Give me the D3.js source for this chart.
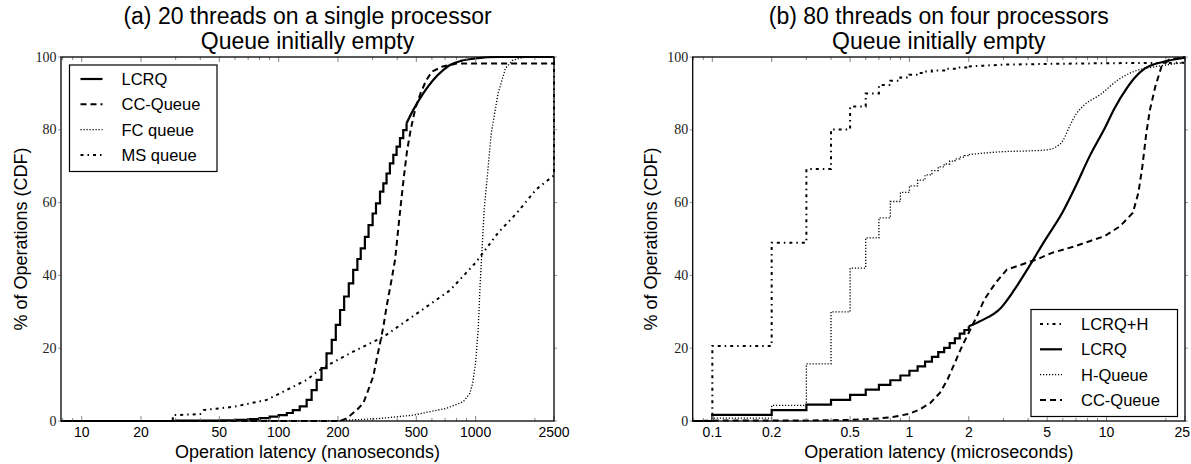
<!DOCTYPE html>
<html><head><meta charset="utf-8">
<script src="https://cdn.jsdelivr.net/npm/d3@7"></script>
<style>
html,body{margin:0;padding:0;background:#fff;}
svg{display:block;}
text{font-family:"Liberation Sans",Arial,sans-serif;fill:#000;}
.ytl{font-family:"Liberation Serif","Times New Roman",serif;}
</style></head>
<body>
<script>
// ---------------- DATA ----------------
// Panel (a): latency in nanoseconds, % of operations (CDF)
const aTitle = ["(a) 20 threads on a single processor", "Queue initially empty"];
const aXLabel = "Operation latency (nanoseconds)";
const aTickValues = [10, 20, 50, 100, 200, 500, 1000, 2500];
const aTickLabels = ["10", "20", "50", "100", "200", "500", "1000", "2500"];
const aLegend = ["LCRQ", "CC-Queue", "FC queue", "MS queue"];

const aLcrqSteps = [[7.85,0],[30,0.1],[50,0.2],[60,0.3],[70,0.5],[80,0.8],[90,1.2],[100,1.6],[110,2.2],[118,3.0],[128,4.0],[138.7,5.8],[147,8.5],[156,11.3],[165,14.5],[175,18.6],[186,22.3],[195,26.4],[205,30.5],[215,34.2],[227,37.8],[239,41.5],[251,44.5],[261,47.4],[274,50.6],[286,53.8],[300,57],[312,59.8],[327,63],[340,65.3],[353,68],[367,70.8],[382,73.1],[397,75.4],[413,77.7],[429,79.9],[446,81.8]];
const aLcrqTail = [[446,81.8],[482,85.4],[542,90],[609,93.7],[684,96.4],[741,97.8],[850,99],[1000,99.6],[1300,100],[2500,100]];
const aCcQueue = [[7.85,0],[205,0],[221,0.7],[249,3],[269,4.9],[285,8.5],[302,12.2],[314,16.8],[327,21.3],[340,25.9],[353,31.4],[372,38],[390,44.3],[405,53],[418,60],[432,67],[448,74],[468,80],[495,86],[525,90],[560,93.5],[600,96],[680,97.4],[800,98.2],[2500,98.2],[2500,100]];
const aFcQueue = [[7.85,0],[200,0.1],[327,0.7],[482,1.6],[713,3.5],[865,5.3],[935,7.6],[966,10.4],[1000,16],[1030,25],[1055,38],[1080,48],[1105,58],[1150,68],[1200,79],[1300,90],[1420,97],[1550,99.2],[1800,100],[2500,100]];
const aMsQueue = [[7.85,0],[29,0],[29,1.6],[40,1.9],[41.5,3],[59,3.9],[87,5.8],[105,8],[139,11.3],[156,13.5],[180,15.5],[230,18.6],[340,23.1],[502,29.5],[741,35.9],[1000,43.5],[1300,51.7],[1622,57.2],[2028,63.6],[2500,67.5],[2500,100]];

// Panel (b): latency in microseconds
const bTitle = ["(b) 80 threads on four processors", "Queue initially empty"];
const bXLabel = "Operation latency (microseconds)";
const bTickValues = [0.1, 0.2, 0.5, 1, 2, 5, 10, 25];
const bTickLabels = ["0.1", "0.2", "0.5", "1", "2", "5", "10", "25"];
const bLegend = ["LCRQ+H", "LCRQ", "H-Queue", "CC-Queue"];

const bLcrqhSteps = [[0.0795,0],[0.1,20.6],[0.2,49],[0.3,69.2],[0.4,80.1],[0.5,86.4],[0.6,90],[0.7,92.3],[0.8,93.5],[0.9,94.4],[1.0,95.1],[1.1,95.6],[1.2,96],[1.3,96.3],[1.5,96.8],[1.7,97.1],[2,97.4]];
const bLcrqhTail = [[2,97.4],[3,97.9],[5,98.1],[10,98.3],[25,98.4],[25,100]];
const bLcrqSteps = [[0.0795,0],[0.1,1.7],[0.2,3.0],[0.3,4.5],[0.4,5.8],[0.5,7.2],[0.6,8.6],[0.7,9.9],[0.8,11.2],[0.9,12.5],[1.0,13.8],[1.1,15.0],[1.2,16.3],[1.3,17.6],[1.4,18.9],[1.5,20.1],[1.6,21.4],[1.7,22.7],[1.8,24.0],[1.9,25.0],[2.0,26.0]];
const bLcrqTail = [[2.0,26.0],[2.3,27.5],[2.9,31],[3.4,36],[4,42],[4.85,49.5],[6,57.5],[6.9,64],[8.2,72.7],[9.8,80.5],[11,86],[12.7,91.5],[14,94.5],[15.6,96.8],[19.9,98.8],[25,99.8]];
const bHqSteps = [[0.0795,0],[0.1,0.8],[0.2,4.3],[0.3,15.7],[0.4,30],[0.5,42],[0.6,50.3],[0.7,55.8],[0.8,60.3],[0.9,62.8],[1.0,64.6],[1.1,66.2],[1.2,67.6],[1.3,68.8],[1.4,69.8],[1.5,70.6],[1.6,71.4],[1.7,72],[1.8,72.5],[1.9,72.9],[2.0,73.2]];
const bHqTail = [[2.0,73.2],[2.5,73.7],[3,74],[4,74.2],[5,74.5],[5.5,75.2],[6,77],[6.5,81],[7,84.3],[7.6,86.5],[9.3,89.7],[11.5,93.8],[14.2,96.3],[18,97.4],[25,98.5]];
const bCcQueue = [[0.0795,0],[0.1,0.1],[0.3,0.15],[0.5,0.3],[0.6,0.5],[0.7,0.7],[0.8,1.0],[0.9,1.5],[1.0,2.0],[1.13,3.2],[1.28,5],[1.43,7.8],[1.56,11.4],[1.7,16],[1.85,20.6],[1.96,23.3],[2.2,28.8],[2.4,33.4],[2.74,38],[3.12,41.6],[3.72,43],[4.43,44.4],[5.28,46.2],[6.9,48],[8.2,49.4],[9.8,50.8],[11.7,53.5],[13.6,57.2],[14.5,62.7],[15.2,70],[15.9,79],[16.6,85.5],[17.7,92],[19,97.4],[20.8,99.3],[25,100]];

const yTickValues = [0, 20, 40, 60, 80, 100];
const yLabel = "% of Operations (CDF)";

// ---------------- STYLES ----------------
const STY = {
  solid:   {w: 2.2, dash: null},
  dashed:  {w: 2.0, dash: "6,4"},
  dotted:  {w: 1.3, dash: "1.2,1.8"},
  dashdot: {w: 2.0, dash: "3,4,1.5,4"}
};

const svg = d3.select("body").append("svg").attr("width", 1191).attr("height", 464);

function drawPanel(cfg, idx) {
  const x = d3.scaleLog().domain(cfg.domain).range([cfg.left, cfg.right]);
  const y = d3.scaleLinear().domain([0, 100]).range([cfg.bottom, cfg.top]);
  const g = svg.append("g");
  const cx = (cfg.left + cfg.right) / 2;

  // titles
  g.append("text").attr("x", cx).attr("y", 24).attr("text-anchor", "middle").style("font-size", "23px").text(cfg.title[0]);
  g.append("text").attr("x", cx).attr("y", 49).attr("text-anchor", "middle").style("font-size", "23px").text(cfg.title[1]);

  // clip
  const cid = "clip" + idx;
  svg.append("clipPath").attr("id", cid).append("rect")
    .attr("x", cfg.left - 2).attr("y", cfg.top - 2)
    .attr("width", cfg.right - cfg.left + 4).attr("height", cfg.bottom - cfg.top + 4);
  const lg = g.append("g").attr("clip-path", `url(#${cid})`);

  cfg.series.forEach(s => {
    const st = STY[s.style];
    s.parts.forEach(p => {
      const line = d3.line().x(d => x(d[0])).y(d => y(d[1])).curve(p.curve);
      lg.append("path").datum(p.data).attr("d", line)
        .attr("fill", "none").attr("stroke", "#000").attr("stroke-width", st.w)
        .attr("stroke-dasharray", st.dash).attr("stroke-linejoin", "miter");
    });
  });

  // minor/major x ticks (inside, top & bottom)
  const [d0, d1] = cfg.domain;
  const tk = [];
  for (let k = Math.floor(Math.log10(d0)); k <= Math.ceil(Math.log10(d1)); k++) {
    for (let m = 1; m <= 9; m++) {
      const v = m * Math.pow(10, k);
      if (v >= d0 && v <= d1 * 1.0001) tk.push(v);
    }
  }
  const same = (a, b) => Math.abs(Math.log10(a) - Math.log10(b)) < 1e-6;
  const isMajor = v => cfg.ticks.some(t => same(t, v));
  const allT = tk.concat(cfg.ticks.filter(t => !tk.some(v => same(t, v))));
  allT.forEach(v => {
    const len = isMajor(v) ? 5 : 3;
    const px = x(v);
    g.append("line").attr("x1", px).attr("x2", px).attr("y1", cfg.bottom).attr("y2", cfg.bottom - len).attr("stroke", "#888").attr("stroke-width", 1);
    g.append("line").attr("x1", px).attr("x2", px).attr("y1", cfg.top).attr("y2", cfg.top + len).attr("stroke", "#888").attr("stroke-width", 1);
  });
  cfg.ticks.forEach((v, i) => {
    const last = i === cfg.ticks.length - 1 && x(v) + 10 > 1191;
    g.append("text").attr("x", last ? 1190 : x(v)).attr("y", cfg.bottom + 15.5)
      .attr("text-anchor", last ? "end" : "middle")
      .style("font-size", "14px").text(cfg.tickLabels[i]);
  });

  // y ticks
  yTickValues.forEach(v => {
    const py = y(v);
    g.append("line").attr("x1", cfg.left - 3).attr("x2", cfg.left).attr("y1", py).attr("y2", py).attr("stroke", "#999");
    g.append("line").attr("x1", cfg.right).attr("x2", cfg.right + 3).attr("y1", py).attr("y2", py).attr("stroke", "#999");
    g.append("text").attr("class", "ytl").attr("x", cfg.left - 4.5).attr("y", py + 4.5).attr("text-anchor", "end")
      .style("font-size", "14px").style("fill", "#222").text(v);
  });

  // frame
  g.append("rect").attr("x", cfg.left).attr("y", cfg.top).attr("width", cfg.right - cfg.left).attr("height", cfg.bottom - cfg.top)
    .attr("fill", "none").attr("stroke", "#000").attr("stroke-width", 1.3);

  // axis labels
  g.append("text").attr("x", cx).attr("y", 457.5).attr("text-anchor", "middle").style("font-size", "18px").text(cfg.xlabel);
  const ym = (cfg.top + cfg.bottom) / 2;
  g.append("text").attr("transform", `translate(${cfg.ylabelX},${ym}) rotate(-90)`).attr("text-anchor", "middle")
    .style("font-size", "18px").text(yLabel);

  // legend
  const L = cfg.legend;
  g.append("rect").attr("x", L.x).attr("y", L.y).attr("width", L.w).attr("height", L.h)
    .attr("fill", "#fff").attr("stroke", "#000").attr("stroke-width", 1.2);
  L.items.forEach((it, i) => {
    const yy = L.y + L.first + i * L.step;
    const st = STY[it.style];
    g.append("line").attr("x1", L.x + L.sx0).attr("x2", L.x + L.sx1).attr("y1", yy).attr("y2", yy)
      .attr("stroke", "#000").attr("stroke-width", st.w).attr("stroke-dasharray", st.dash);
    g.append("text").attr("x", L.x + L.tx).attr("y", yy + 6).style("font-size", "16.5px").text(it.name);
  });
}

drawPanel({
  left: 61, right: 554, top: 57, bottom: 421, domain: [7.85, 2500],
  title: aTitle, xlabel: aXLabel, ticks: aTickValues, tickLabels: aTickLabels, ylabelX: 27,
  series: [
    {style: "solid", parts: [{data: aLcrqSteps, curve: d3.curveStepAfter}, {data: aLcrqTail, curve: d3.curveMonotoneX}]},
    {style: "dashed", parts: [{data: aCcQueue, curve: d3.curveLinear}]},
    {style: "dotted", parts: [{data: aFcQueue, curve: d3.curveLinear}]},
    {style: "dashdot", parts: [{data: aMsQueue, curve: d3.curveLinear}]}
  ],
  legend: {x: 69.5, y: 65, w: 147.5, h: 106.5, first: 14, step: 25.3, sx0: 11, sx1: 33, tx: 52,
    items: [{name: aLegend[0], style: "solid"}, {name: aLegend[1], style: "dashed"}, {name: aLegend[2], style: "dotted"}, {name: aLegend[3], style: "dashdot"}]}
}, 0);

drawPanel({
  left: 692.7, right: 1185, top: 57, bottom: 421, domain: [0.0795, 25],
  title: bTitle, xlabel: bXLabel, ticks: bTickValues, tickLabels: bTickLabels, ylabelX: 657,
  series: [
    {style: "dashdot", parts: [{data: bLcrqhSteps, curve: d3.curveStepAfter}, {data: bLcrqhTail, curve: d3.curveLinear}]},
    {style: "solid", parts: [{data: bLcrqSteps, curve: d3.curveStepAfter}, {data: bLcrqTail, curve: d3.curveMonotoneX}]},
    {style: "dotted", parts: [{data: bHqSteps, curve: d3.curveStepAfter}, {data: bHqTail, curve: d3.curveMonotoneX}]},
    {style: "dashed", parts: [{data: bCcQueue, curve: d3.curveLinear}]}
  ],
  legend: {x: 1031, y: 309.5, w: 146.5, h: 107, first: 14.5, step: 25.3, sx0: 9, sx1: 31, tx: 50,
    items: [{name: bLegend[0], style: "dashdot"}, {name: bLegend[1], style: "solid"}, {name: bLegend[2], style: "dotted"}, {name: bLegend[3], style: "dashed"}]}
}, 1);
</script>
</body></html>
